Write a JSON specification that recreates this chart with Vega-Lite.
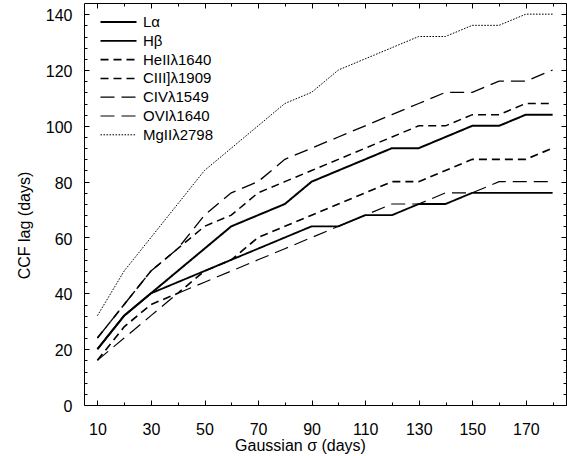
{
  "$schema": "https://vega.github.io/schema/vega-lite/v6.json",
  "width": 482,
  "height": 402,
  "autosize": {"type": "none"},
  "padding": {"left": 84, "top": 3, "right": 1, "bottom": 51},
  "config": {
    "font": "Liberation Sans",
    "view": {"stroke": "black", "strokeWidth": 1},
    "axis": {"grid": false, "domain": false, "tickColor": "black", "tickWidth": 1, "labelColor": "black", "titleColor": "black", "labelFontSize": 16, "titleFontSize": 16, "titleFontWeight": "normal", "labelFlush": false}
  },
  "data": {"values": [
    {"s":10,"lag":20,"line":"Lα"},{"s":20,"lag":32,"line":"Lα"},{"s":30,"lag":40,"line":"Lα"},{"s":40,"lag":48,"line":"Lα"},{"s":50,"lag":56,"line":"Lα"},{"s":60,"lag":64,"line":"Lα"},{"s":70,"lag":68,"line":"Lα"},{"s":80,"lag":72,"line":"Lα"},{"s":90,"lag":80,"line":"Lα"},{"s":100,"lag":84,"line":"Lα"},{"s":110,"lag":88,"line":"Lα"},{"s":120,"lag":92,"line":"Lα"},{"s":130,"lag":92,"line":"Lα"},{"s":140,"lag":96,"line":"Lα"},{"s":150,"lag":100,"line":"Lα"},{"s":160,"lag":100,"line":"Lα"},{"s":170,"lag":104,"line":"Lα"},{"s":180,"lag":104,"line":"Lα"},
    {"s":10,"lag":20,"line":"Hβ"},{"s":20,"lag":32,"line":"Hβ"},{"s":30,"lag":40,"line":"Hβ"},{"s":40,"lag":44,"line":"Hβ"},{"s":50,"lag":48,"line":"Hβ"},{"s":60,"lag":52,"line":"Hβ"},{"s":70,"lag":56,"line":"Hβ"},{"s":80,"lag":60,"line":"Hβ"},{"s":90,"lag":64,"line":"Hβ"},{"s":100,"lag":64,"line":"Hβ"},{"s":110,"lag":68,"line":"Hβ"},{"s":120,"lag":68,"line":"Hβ"},{"s":130,"lag":72,"line":"Hβ"},{"s":140,"lag":72,"line":"Hβ"},{"s":150,"lag":76,"line":"Hβ"},{"s":160,"lag":76,"line":"Hβ"},{"s":170,"lag":76,"line":"Hβ"},{"s":180,"lag":76,"line":"Hβ"},
    {"s":10,"lag":16,"line":"HeIIλ1640"},{"s":20,"lag":28,"line":"HeIIλ1640"},{"s":30,"lag":36,"line":"HeIIλ1640"},{"s":40,"lag":40,"line":"HeIIλ1640"},{"s":50,"lag":48,"line":"HeIIλ1640"},{"s":60,"lag":52,"line":"HeIIλ1640"},{"s":70,"lag":60,"line":"HeIIλ1640"},{"s":80,"lag":64,"line":"HeIIλ1640"},{"s":90,"lag":68,"line":"HeIIλ1640"},{"s":100,"lag":72,"line":"HeIIλ1640"},{"s":110,"lag":76,"line":"HeIIλ1640"},{"s":120,"lag":80,"line":"HeIIλ1640"},{"s":130,"lag":80,"line":"HeIIλ1640"},{"s":140,"lag":84,"line":"HeIIλ1640"},{"s":150,"lag":88,"line":"HeIIλ1640"},{"s":160,"lag":88,"line":"HeIIλ1640"},{"s":170,"lag":88,"line":"HeIIλ1640"},{"s":180,"lag":92,"line":"HeIIλ1640"},
    {"s":10,"lag":24,"line":"CIII]λ1909"},{"s":20,"lag":36,"line":"CIII]λ1909"},{"s":30,"lag":48,"line":"CIII]λ1909"},{"s":40,"lag":56,"line":"CIII]λ1909"},{"s":50,"lag":64,"line":"CIII]λ1909"},{"s":60,"lag":68,"line":"CIII]λ1909"},{"s":70,"lag":76,"line":"CIII]λ1909"},{"s":80,"lag":80,"line":"CIII]λ1909"},{"s":90,"lag":84,"line":"CIII]λ1909"},{"s":100,"lag":88,"line":"CIII]λ1909"},{"s":110,"lag":92,"line":"CIII]λ1909"},{"s":120,"lag":96,"line":"CIII]λ1909"},{"s":130,"lag":100,"line":"CIII]λ1909"},{"s":140,"lag":100,"line":"CIII]λ1909"},{"s":150,"lag":104,"line":"CIII]λ1909"},{"s":160,"lag":104,"line":"CIII]λ1909"},{"s":170,"lag":108,"line":"CIII]λ1909"},{"s":180,"lag":108,"line":"CIII]λ1909"},
    {"s":10,"lag":24,"line":"CIVλ1549"},{"s":20,"lag":36,"line":"CIVλ1549"},{"s":30,"lag":48,"line":"CIVλ1549"},{"s":40,"lag":56,"line":"CIVλ1549"},{"s":50,"lag":68,"line":"CIVλ1549"},{"s":60,"lag":76,"line":"CIVλ1549"},{"s":70,"lag":80,"line":"CIVλ1549"},{"s":80,"lag":88,"line":"CIVλ1549"},{"s":90,"lag":92,"line":"CIVλ1549"},{"s":100,"lag":96,"line":"CIVλ1549"},{"s":110,"lag":100,"line":"CIVλ1549"},{"s":120,"lag":104,"line":"CIVλ1549"},{"s":130,"lag":108,"line":"CIVλ1549"},{"s":140,"lag":112,"line":"CIVλ1549"},{"s":150,"lag":112,"line":"CIVλ1549"},{"s":160,"lag":116,"line":"CIVλ1549"},{"s":170,"lag":116,"line":"CIVλ1549"},{"s":180,"lag":120,"line":"CIVλ1549"},
    {"s":10,"lag":16,"line":"OVIλ1640"},{"s":20,"lag":24,"line":"OVIλ1640"},{"s":30,"lag":32,"line":"OVIλ1640"},{"s":40,"lag":40,"line":"OVIλ1640"},{"s":50,"lag":44,"line":"OVIλ1640"},{"s":60,"lag":48,"line":"OVIλ1640"},{"s":70,"lag":52,"line":"OVIλ1640"},{"s":80,"lag":56,"line":"OVIλ1640"},{"s":90,"lag":60,"line":"OVIλ1640"},{"s":100,"lag":64,"line":"OVIλ1640"},{"s":110,"lag":68,"line":"OVIλ1640"},{"s":120,"lag":72,"line":"OVIλ1640"},{"s":130,"lag":72,"line":"OVIλ1640"},{"s":140,"lag":76,"line":"OVIλ1640"},{"s":150,"lag":76,"line":"OVIλ1640"},{"s":160,"lag":80,"line":"OVIλ1640"},{"s":170,"lag":80,"line":"OVIλ1640"},{"s":180,"lag":80,"line":"OVIλ1640"},
    {"s":10,"lag":32,"line":"MgIIλ2798"},{"s":20,"lag":48,"line":"MgIIλ2798"},{"s":30,"lag":60,"line":"MgIIλ2798"},{"s":40,"lag":72,"line":"MgIIλ2798"},{"s":50,"lag":84,"line":"MgIIλ2798"},{"s":60,"lag":92,"line":"MgIIλ2798"},{"s":70,"lag":100,"line":"MgIIλ2798"},{"s":80,"lag":108,"line":"MgIIλ2798"},{"s":90,"lag":112,"line":"MgIIλ2798"},{"s":100,"lag":120,"line":"MgIIλ2798"},{"s":110,"lag":124,"line":"MgIIλ2798"},{"s":120,"lag":128,"line":"MgIIλ2798"},{"s":130,"lag":132,"line":"MgIIλ2798"},{"s":140,"lag":132,"line":"MgIIλ2798"},{"s":150,"lag":136,"line":"MgIIλ2798"},{"s":160,"lag":136,"line":"MgIIλ2798"},{"s":170,"lag":140,"line":"MgIIλ2798"},{"s":180,"lag":140,"line":"MgIIλ2798"}
  ]},
  "resolve": {"axis": {"x": "independent", "y": "independent"}},
  "layer": [
    {
      "mark": {"type": "line", "color": "black"},
      "encoding": {
        "x": {"field": "s", "type": "quantitative", "scale": {"domain": [5, 185], "nice": false, "zero": false},
          "axis": {"orient": "bottom", "values": [10,30,50,70,90,110,130,150,170], "tickSize": -5, "labelPadding": 21, "title": "Gaussian σ (days)", "titleX": 216, "titleY": 45.5, "titleBaseline": "alphabetic"}},
        "y": {"field": "lag", "type": "quantitative", "scale": {"domain": [0, 144], "nice": false, "zero": true},
          "axis": {"orient": "left", "values": [0,20,40,60,80,100,120,140], "tickSize": -5, "labelPadding": 17, "labelOffset": 1.5, "title": "CCF lag (days)", "titleX": -52, "titleY": 222, "titleBaseline": "bottom"}},
        "strokeDash": {"field": "line", "type": "nominal",
          "scale": {"domain": ["Lα","Hβ","HeIIλ1640","CIII]λ1909","CIVλ1549","OVIλ1640","MgIIλ2798"], "range": [[1,0],[1,0],[8,5],[8,5],[14,7],[14,7],[1.6,1.4]]},
          "legend": {"orient": "none", "legendX": 27, "legendY": 11.5, "title": null, "symbolType": "M-4.5,0H4.5", "symbolSize": 64, "symbolStrokeColor": "black", "labelFontSize": 15, "labelColor": "black", "labelOffset": 17, "rowPadding": 2.8, "padding": 0,
            "encode": {"symbols": {"update": {"strokeWidth": {"scale": "strokeWidth", "field": "value"}}}}}},
        "strokeWidth": {"field": "line", "type": "nominal",
          "scale": {"domain": ["Lα","Hβ","HeIIλ1640","CIII]λ1909","CIVλ1549","OVIλ1640","MgIIλ2798"], "range": [2,1,2,1,2,1,1.8]},
          "legend": {"orient": "none", "legendX": 27, "legendY": 11.5, "title": null, "symbolType": "M-4.5,0H4.5", "symbolSize": 64, "symbolStrokeColor": "black", "labelFontSize": 15, "labelColor": "black", "labelOffset": 17, "rowPadding": 2.8, "padding": 0,
            "encode": {"symbols": {"update": {"strokeWidth": {"scale": "strokeWidth", "field": "value"}}}}}}
      }
    },
    {
      "mark": {"type": "point", "opacity": 0},
      "encoding": {
        "x": {"field": "s", "type": "quantitative", "scale": {"domain": [5, 185], "nice": false, "zero": false},
          "axis": {"orient": "bottom", "values": [20,40,60,80,100,120,140,160,180], "tickSize": -3, "labels": false, "title": null}},
        "y": {"field": "lag", "type": "quantitative", "scale": {"domain": [0, 144], "nice": false, "zero": true},
          "axis": {"orient": "left", "values": [4,8,12,16,24,28,32,36,44,48,52,56,64,68,72,76,84,88,92,96,104,108,112,116,124,128,132,136], "tickSize": -3, "labels": false, "title": null}}
      }
    },
    {
      "mark": {"type": "point", "opacity": 0},
      "encoding": {
        "x": {"field": "s", "type": "quantitative", "scale": {"domain": [5, 185], "nice": false, "zero": false},
          "axis": {"orient": "top", "values": [10,30,50,70,90,110,130,150,170], "tickSize": -5, "labels": false, "title": null}},
        "y": {"field": "lag", "type": "quantitative", "scale": {"domain": [0, 144], "nice": false, "zero": true},
          "axis": {"orient": "right", "values": [0,20,40,60,80,100,120,140], "tickSize": -5, "labels": false, "title": null}}
      }
    },
    {
      "mark": {"type": "point", "opacity": 0},
      "encoding": {
        "x": {"field": "s", "type": "quantitative", "scale": {"domain": [5, 185], "nice": false, "zero": false},
          "axis": {"orient": "top", "values": [20,40,60,80,100,120,140,160,180], "tickSize": -3, "labels": false, "title": null}},
        "y": {"field": "lag", "type": "quantitative", "scale": {"domain": [0, 144], "nice": false, "zero": true},
          "axis": {"orient": "right", "values": [4,8,12,16,24,28,32,36,44,48,52,56,64,68,72,76,84,88,92,96,104,108,112,116,124,128,132,136], "tickSize": -3, "labels": false, "title": null}}
      }
    }
  ]
}
